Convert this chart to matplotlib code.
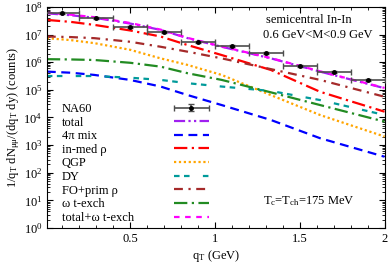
import numpy as np
import matplotlib.pyplot as plt
from matplotlib.ticker import LogLocator, MultipleLocator, NullFormatter
from matplotlib.legend_handler import HandlerErrorbar

plt.rcParams['font.family'] = ['Liberation Serif', 'DejaVu Serif']
plt.rcParams['mathtext.fontset'] = 'custom'
plt.rcParams['mathtext.rm'] = 'Liberation Serif'
plt.rcParams['mathtext.it'] = 'Liberation Serif'

# NA60 data (bin centres, half widths, counts)
qt_data = [0.1, 0.3, 0.5, 0.7, 0.9, 1.1, 1.3, 1.5, 1.7, 1.9]
qt_err = [0.1] * 10
na60 = [6.2e7, 4.1e7, 1.94e7, 1.21e7, 5.3e6, 4.0e6, 2.1e6, 7.3e5, 4.3e5, 2.3e5]
na60_err = [0.08 * v for v in na60]

# theory curves, log10(counts)
qt = [0.01, 0.15, 0.29, 0.5, 0.68, 0.84, 1.04, 1.33, 1.62, 2.0]
lg_total = [7.77, 7.70, 7.61, 7.40, 7.17, 6.87, 6.56, 6.14, 5.66, 5.06]
lg_mix = [5.66, 5.62, 5.54, 5.36, 5.12, 4.81, 4.45, 3.91, 3.25, 2.58]
lg_rho = [7.53, 7.46, 7.35, 7.15, 6.93, 6.62, 6.26, 5.72, 4.93, 4.21]
lg_qgp = [6.87, 6.80, 6.69, 6.45, 6.14, 5.90, 5.54, 4.81, 4.09, 3.31]
lg_dy = [5.50, 5.50, 5.50, 5.44, 5.36, 5.24, 5.12, 4.96, 4.63, 4.09]
lg_fo = [6.93, 6.91, 6.87, 6.74, 6.56, 6.38, 6.14, 5.75, 5.36, 4.75]
lg_omega = [6.11, 6.10, 6.08, 5.98, 5.84, 5.60, 5.36, 4.91, 4.45, 3.85]
lg_tot_om = [7.79, 7.72, 7.63, 7.42, 7.18, 6.88, 6.57, 6.15, 5.67, 5.07]

fig = plt.figure(figsize=(3.9, 2.67), dpi=100)
ax = fig.add_axes([0.121, 0.146, 0.865, 0.828])

eb = ax.errorbar(qt_data, na60, xerr=qt_err, yerr=na60_err, fmt='o', ms=2.5,
                 color='black', ecolor='0.3', elinewidth=1.2, capsize=2.5,
                 capthick=1.0, zorder=5)

lw = 1.6
curves = [
    (lg_total, '#A020F0', (0, (5, 1.5, 1, 1.5, 1, 1.5)), 'total'),
    (lg_mix, '#0000FF', (0, (4, 2.5)), '4π mix'),
    (lg_rho, '#FF0000', (0, (6, 2, 1, 2)), 'in-med ρ'),
    (lg_qgp, '#FFA500', (0, (1, 1.2)), 'QGP'),
    (lg_dy, '#009A9A', (0, (2.5, 2, 2.5, 6)), 'DY'),
    (lg_fo, '#A52A2A', (0, (4, 2.5, 1, 2.5)), 'FO+prim ρ'),
    (lg_omega, '#228B22', (0, (6, 2, 1, 2)), 'ω t-exch'),
    (lg_tot_om, '#FF00FF', (0, (2.5, 2.5)), 'total+ω t-exch'),
]
handles = [eb]
labels = ['NA60']
for lg, col, ls, lab in curves:
    ln, = ax.plot(qt, 10.0 ** np.array(lg), color=col, ls=ls, lw=lw)
    handles.append(ln)
    labels.append(lab)

ax.set_yscale('log')
ax.set_xlim(0.012, 2.0)
ax.set_ylim(1, 1e8)
ax.set_xticks([0.5, 1, 1.5, 2])
ax.set_xticklabels(['0.5', '1', '1.5', '2'])
ax.xaxis.set_minor_locator(MultipleLocator(0.1))
ax.yaxis.set_major_locator(LogLocator(base=10, numticks=20))
ax.yaxis.set_minor_locator(LogLocator(base=10, subs=np.arange(2, 10), numticks=20))
ax.yaxis.set_minor_formatter(NullFormatter())
ax.tick_params(which='both', direction='in', top=True, right=True, labelsize=9)
ax.tick_params(which='major', length=4)
ax.tick_params(which='minor', length=2)

ax.set_xlabel(r'q$_{\rm T}$ (GeV)', fontsize=9, labelpad=2)
ax.set_ylabel(r'1/q$_{\rm T}$ dN$_{\rm μμ}$/(dq$_{\rm T}$ dy) (counts)', fontsize=9, labelpad=1)

ax.text(0.649, 0.941, 'semicentral In-In', transform=ax.transAxes, fontsize=9, va='center')
ax.text(0.640, 0.873, '0.6 GeV<M<0.9 GeV', transform=ax.transAxes, fontsize=9, va='center')
ax.text(0.639, 0.124, r'T$_{\rm c}$=T$_{\rm ch}$=175 MeV', transform=ax.transAxes, fontsize=9, va='center')

leg = ax.legend(handles, labels, loc='upper left', bbox_to_anchor=(0.0436, 0.566),
                frameon=False, markerfirst=False, fontsize=9, handlelength=2.8,
                handletextpad=1.0, labelspacing=0.13, borderpad=0, borderaxespad=0,
                handler_map={eb: HandlerErrorbar(xerr_size=1.4, yerr_size=0.3,
                                                 marker_pad=0.0)})
# left-align the labels, keep the keys flush right (gnuplot style key)
col = leg._legend_handle_box.get_children()[0]
col.align = 'left'
for row in col.get_children():
    row.mode = 'expand'
    row.width = 147

fig.savefig('out.png', dpi=100)
